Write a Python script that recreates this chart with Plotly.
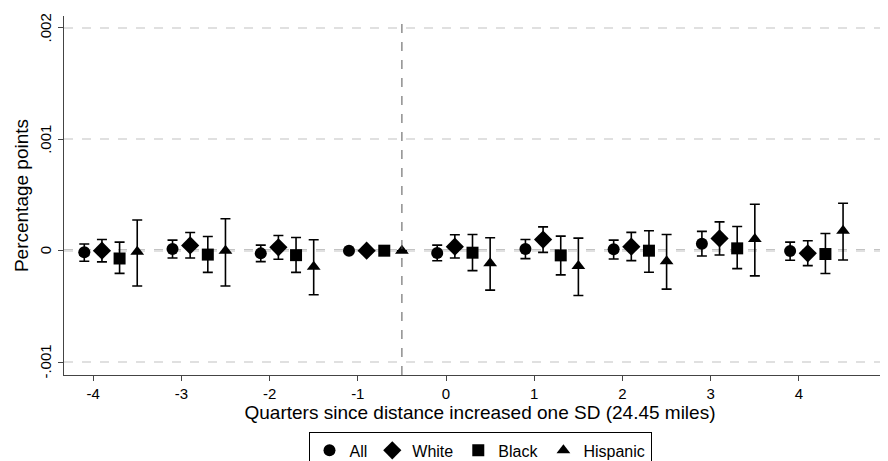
import plotly.graph_objects as go

quarters = [-4, -3, -2, -1, 0, 1, 2, 3, 4]
quarter_labels = ["-4", "-3", "-2", "-1", "0", "1", "2", "3", "4"]
y_ticks = [-0.001, 0, 0.001, 0.002]
y_tick_labels = ["-.001", "0", ".001", ".002"]
groups = ["All", "White", "Black", "Hispanic"]
offsets = [-0.1, 0.1, 0.3, 0.5]
symbols = ["circle", "diamond", "square", "triangle-up"]

# point estimates (in units of 0.001)
est_all = [-0.015, 0.015, -0.024, 0, -0.02, 0.015, 0.012, 0.062, -0.003]
est_white = [0, 0.047, 0.03, 0, 0.036, 0.1, 0.036, 0.11, -0.024]
est_black = [-0.07, -0.035, -0.04, 0, -0.018, -0.042, 0, 0.021, -0.03]
est_hisp = [-0.01, 0, -0.145, 0, -0.113, -0.137, -0.095, 0.104, 0.179]

# upper / lower CI bounds (in units of 0.001)
hi_all = [0.06, 0.095, 0.05, 0, 0.05, 0.1, 0.095, 0.173, 0.077]
lo_all = [-0.095, -0.065, -0.098, 0, -0.09, -0.071, -0.074, -0.048, -0.086]
hi_white = [0.1, 0.163, 0.136, 0, 0.143, 0.214, 0.164, 0.259, 0.089]
lo_white = [-0.1, -0.065, -0.077, 0, -0.065, -0.015, -0.089, -0.039, -0.134]
hi_black = [0.077, 0.127, 0.118, 0, 0.146, 0.131, 0.179, 0.217, 0.155]
lo_black = [-0.204, -0.195, -0.195, 0, -0.179, -0.217, -0.193, -0.161, -0.205]
hi_hisp = [0.275, 0.287, 0.098, 0, 0.116, 0.113, 0.146, 0.417, 0.426]
lo_hisp = [-0.317, -0.317, -0.396, 0, -0.354, -0.402, -0.345, -0.226, -0.083]

series = [(est_all, hi_all, lo_all), (est_white, hi_white, lo_white),
          (est_black, hi_black, lo_black), (est_hisp, hi_hisp, lo_hisp)]

fig = go.Figure()
for name, off, sym, (est, hi, lo) in zip(groups, offsets, symbols, series):
    x = [q + off for q in quarters]
    y = [e / 1000 for e in est]
    up = [(h - e) / 1000 for h, e in zip(hi, est)]
    dn = [(e - l) / 1000 for e, l in zip(est, lo)]
    fig.add_trace(go.Scatter(
        x=x, y=y, mode="markers", name=name,
        marker=dict(symbol=sym, color="black", size=12 if sym != "diamond" else 14),
        error_y=dict(type="data", symmetric=False, array=up, arrayminus=dn,
                     color="black", thickness=1.6, width=5),
    ))

fig.add_hline(y=0, line=dict(color="#888888", width=2.5, dash="dash"), layer="below")
fig.add_vline(x=-0.5, line=dict(color="#555555", width=1, dash="dash"))

# rotated y tick labels as annotations (plotly clips the lowest one otherwise)
for v, t in zip(y_ticks, y_tick_labels):
    fig.add_annotation(x=0, xref="paper", xanchor="right", xshift=-8,
                       y=v, yref="y", text=t, textangle=-90, showarrow=False,
                       font=dict(size=15))

fig.update_layout(
    width=888, height=461,
    margin=dict(l=56, r=0, t=8, b=88),
    plot_bgcolor="white", paper_bgcolor="white",
    font=dict(family="Liberation Sans, Arial, sans-serif", size=16, color="black"),
    showlegend=True,
    legend=dict(orientation="h", x=0.5, xanchor="center", y=-0.16, yanchor="top",
                bordercolor="black", borderwidth=1, font=dict(size=16),
                itemwidth=30, tracegroupgap=0),
    xaxis=dict(range=[-4.33, 5.1], tickvals=quarters, ticktext=quarter_labels,
               showgrid=False, tickfont=dict(size=15),
               showline=True, linecolor="#444444", ticks="outside", ticklen=5,
               zeroline=False,
               title=dict(text="Quarters since distance increased one SD (24.45 miles)",
                          standoff=2)),
    yaxis=dict(range=[-0.001116, 0.002107], tickvals=y_ticks, showticklabels=False,
               showgrid=True, gridcolor="#e0e0e0", griddash="dash", gridwidth=1.5,
               showline=True, linecolor="#444444", ticks="outside", ticklen=5,
               zeroline=False, title=dict(text="Percentage points", standoff=24)),
)

fig.write_html("out.html")
